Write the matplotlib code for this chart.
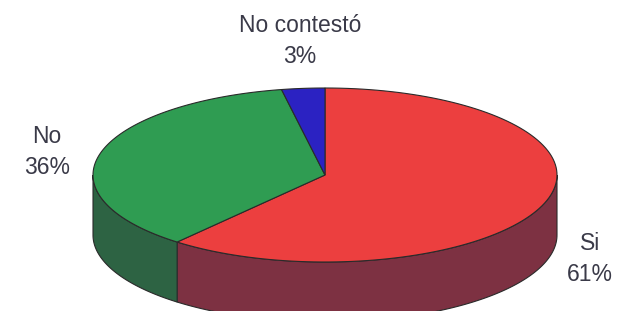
import numpy as np
import matplotlib.pyplot as plt
from matplotlib.patches import Polygon

# datos de la encuesta
labels = ["Si", "No", "No contestó"]
values = [61, 36, 3]
top_colors = ["#ec3f3f", "#2f9c52", "#2b22c2"]
side_colors = ["#7d3142", "#2d6343", "#1d1872"]
label_pos = [(590, 259), (47, 152), (300, 41)]

# geometria del pastel 3D (pixeles)
cx, cy, rx, ry, depth = 325, 175, 232, 87, 60

fig = plt.figure(figsize=(6.18, 3.11), dpi=100)
ax = fig.add_axes([0, 0, 1, 1])
ax.set_xlim(0, 618)
ax.set_ylim(311, 0)
ax.axis("off")


def arc(a, b, dy=0, n=120):
    t = np.radians(np.linspace(a, b, n))
    return np.column_stack([cx + rx * np.cos(t), cy - ry * np.sin(t) + dy])


total = sum(values)
start = 90.0
slices = []
for v in values:
    end = start - 360.0 * v / total
    slices.append((end, start))
    start = end

# caras laterales (solo la parte frontal)
for (a, b), col in zip(slices, side_colors):
    for k in (-1, 0, 1):
        lo = max(a, -180 + 360 * k)
        hi = min(b, 360 * k)
        if hi > lo:
            pts = np.vstack([arc(lo, hi), arc(hi, lo, depth)])
            ax.add_patch(Polygon(pts, closed=True, facecolor=col,
                                 edgecolor="#2a2a2a", lw=0.8))

# caras superiores
for (a, b), col in zip(slices, top_colors):
    pts = np.vstack([[cx, cy], arc(a, b)])
    ax.add_patch(Polygon(pts, closed=True, facecolor=col,
                         edgecolor="#2a2a2a", lw=0.8))

for lab, v, (x, y) in zip(labels, values, label_pos):
    ax.text(x, y, f"{lab}\n{v}%", ha="center", va="center",
            fontsize=16.5, family="Liberation Sans", color="#3a3a48",
            linespacing=1.4)

fig.savefig("out.png", dpi=100)
